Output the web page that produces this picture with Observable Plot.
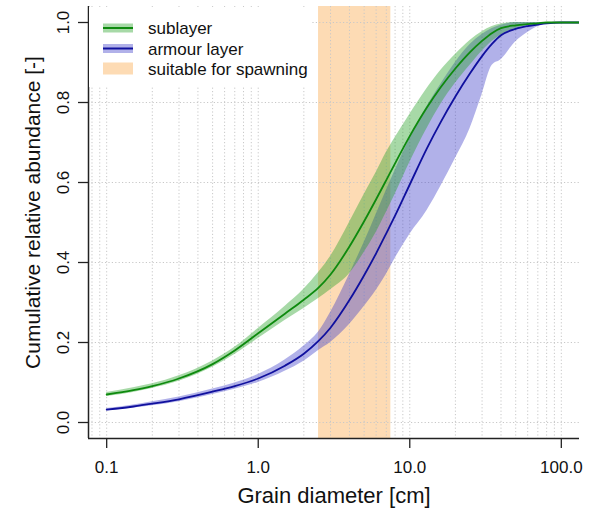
<!DOCTYPE html>
<html>
<head>
<meta charset="utf-8">
<script src="https://cdn.jsdelivr.net/npm/d3@7"></script>
<script src="https://cdn.jsdelivr.net/npm/@observablehq/plot@0.6"></script>
<style>
  html, body { margin: 0; padding: 0; background: #fff; }
  #wrap { position: relative; width: 592px; height: 509px; font-family: "Liberation Sans", Arial, sans-serif; }
  #legend { position: absolute; left: 89px; top: 7px; width: 223px; height: 80px; background: #fff; }
</style>
</head>
<body>
<div id="wrap"></div>
<script>
// Grain diameter [cm]
const diam = [0.1, 0.15, 0.2, 0.3, 0.5, 0.7, 1, 1.5, 2, 2.5, 3, 4, 5, 6, 7, 8, 10, 13, 16, 20, 25, 30, 35, 40, 50, 60, 70, 80, 100, 150];
// sublayer: median and envelope
const subMid = [0.07, 0.081, 0.091, 0.11, 0.146, 0.18, 0.223, 0.272, 0.307, 0.337, 0.37, 0.44, 0.503, 0.558, 0.606, 0.648, 0.716, 0.788, 0.838, 0.885, 0.926, 0.954, 0.974, 0.986, 0.993, 0.996, 0.998, 1, 1, 1];
const subLo  = [0.065, 0.075, 0.085, 0.103, 0.138, 0.17, 0.21, 0.255, 0.285, 0.31, 0.332, 0.372, 0.425, 0.475, 0.525, 0.57, 0.65, 0.735, 0.795, 0.848, 0.893, 0.928, 0.953, 0.969, 0.985, 0.993, 0.998, 1, 1, 1];
const subHi  = [0.075, 0.087, 0.097, 0.117, 0.154, 0.188, 0.235, 0.29, 0.333, 0.375, 0.415, 0.5, 0.57, 0.625, 0.675, 0.712, 0.77, 0.835, 0.88, 0.92, 0.955, 0.977, 0.99, 0.996, 1, 1, 1, 1, 1, 1];
// armour layer: median and envelope
const armMid = [0.032, 0.04, 0.047, 0.058, 0.077, 0.091, 0.11, 0.142, 0.172, 0.204, 0.237, 0.306, 0.368, 0.423, 0.473, 0.517, 0.595, 0.686, 0.751, 0.815, 0.873, 0.916, 0.947, 0.968, 0.984, 0.991, 0.995, 0.998, 1, 1];
const armLo  = [0.029, 0.036, 0.042, 0.052, 0.07, 0.083, 0.1, 0.128, 0.153, 0.18, 0.2, 0.245, 0.29, 0.33, 0.37, 0.41, 0.47, 0.53, 0.59, 0.66, 0.735, 0.82, 0.893, 0.907, 0.952, 0.975, 0.99, 1, 1, 1];
const armHi  = [0.035, 0.044, 0.052, 0.064, 0.084, 0.099, 0.12, 0.156, 0.191, 0.226, 0.275, 0.37, 0.45, 0.52, 0.58, 0.63, 0.71, 0.79, 0.845, 0.9, 0.945, 0.97, 0.985, 0.993, 1, 1, 1, 1, 1, 1];
// grain sizes suitable for spawning [cm]
const spawnRange = [2.5, 7.5];
// axes
const xTicks = [0.1, 1, 10, 100];
const yTicks = [0, 0.2, 0.4, 0.6, 0.8, 1.0];
const xGrid = [0.08, 0.09, 0.1, 0.2, 0.3, 0.4, 0.5, 0.6, 0.7, 0.8, 0.9, 1, 2, 3, 4, 5, 6, 7, 8, 9, 10, 20, 30, 40, 50, 60, 70, 80, 90, 100];
const xDomain = [Math.pow(10, -1.12), Math.pow(10, 2.12)];
const yDomain = [-0.04, 1.04];
const legendLabels = ["sublayer", "armour layer", "suitable for spawning"];

const sub = diam.map((d, i) => ({d, mid: subMid[i], lo: subLo[i], hi: subHi[i]}));
const arm = diam.map((d, i) => ({d, mid: armMid[i], lo: armLo[i], hi: armHi[i]}));

const cGreenLine = "#0e8a0e", cGreenFill = "#22a022";
const cBlueLine = "#10109e", cBlueFill = "#3c3cc8";
const cSpawn = "#fddbb4";
const font = "Liberation Sans, Arial, sans-serif";
const fmt = d3.format(".1f");

const chart = Plot.plot({
  width: 592, height: 509,
  marginLeft: 88, marginRight: 13, marginTop: 6, marginBottom: 71,
  style: {fontFamily: font, background: "#fff", color: "#111"},
  x: {type: "log", domain: xDomain},
  y: {domain: yDomain},
  marks: [
    Plot.rect([spawnRange], {x1: d => d[0], x2: d => d[1], fill: cSpawn}),
    Plot.ruleX(xGrid, {stroke: "#c8c8c8", strokeDasharray: "1.2,2.2", strokeWidth: 1}),
    Plot.ruleY(yTicks, {stroke: "#c8c8c8", strokeDasharray: "1.2,2.2", strokeWidth: 1}),
    Plot.areaY(arm, {x: "d", y1: "lo", y2: "hi", fill: cBlueFill, fillOpacity: 0.4, curve: "monotone-x", clip: true}),
    Plot.areaY(sub, {x: "d", y1: "lo", y2: "hi", fill: cGreenFill, fillOpacity: 0.4, curve: "monotone-x", clip: true}),
    Plot.line(arm, {x: "d", y: "mid", stroke: cBlueLine, strokeWidth: 1.8, curve: "monotone-x", clip: true}),
    Plot.line(sub, {x: "d", y: "mid", stroke: cGreenLine, strokeWidth: 1.8, curve: "monotone-x", clip: true}),
    Plot.ruleX([xDomain[0]], {stroke: "#222", strokeWidth: 1.5}),
    Plot.ruleY([yDomain[0]], {stroke: "#222", strokeWidth: 1.5}),
    Plot.axisX({ticks: xTicks, tickFormat: fmt, tickSize: 10, tickPadding: 12, fontSize: 17, stroke: "#222", strokeWidth: 1.3, label: null}),
    Plot.axisY({ticks: yTicks, tickFormat: fmt, tickSize: 10, tickPadding: 10, tickRotate: -90, fontSize: 17, stroke: "#222", strokeWidth: 1.3, label: null}),
    Plot.text(["Grain diameter [cm]"], {frameAnchor: "bottom", dy: 57, textAnchor: "middle", lineAnchor: "middle", fontSize: 22, fill: "#111"}),
    Plot.text(["Cumulative relative abundance [-]"], {frameAnchor: "left", dx: -55, dy: -10, rotate: -90, textAnchor: "middle", lineAnchor: "middle", fontSize: 21, fill: "#111"})
  ]
});

const wrap = document.getElementById("wrap");
wrap.appendChild(chart);

// legend overlay (white box in the top-left of the panel)
const lg = document.createElement("div");
lg.id = "legend";
const ns = "http://www.w3.org/2000/svg";
const svg = document.createElementNS(ns, "svg");
svg.setAttribute("width", 223); svg.setAttribute("height", 80);
const items = [
  {label: legendLabels[0], fill: cGreenFill, line: cGreenLine},
  {label: legendLabels[1], fill: cBlueFill, line: cBlueLine},
  {label: legendLabels[2], fill: cSpawn, line: null}
];
items.forEach((it, i) => {
  const cy = 21 + i * 20.5;
  const r = document.createElementNS(ns, "rect");
  r.setAttribute("x", 14); r.setAttribute("width", 30);
  if (it.line) {
    r.setAttribute("y", cy - 4.5); r.setAttribute("height", 9);
    r.setAttribute("fill", it.fill); r.setAttribute("fill-opacity", 0.4);
  } else {
    r.setAttribute("y", cy - 6.5); r.setAttribute("height", 12);
    r.setAttribute("fill", it.fill);
  }
  svg.appendChild(r);
  if (it.line) {
    const l = document.createElementNS(ns, "line");
    l.setAttribute("x1", 14); l.setAttribute("x2", 44);
    l.setAttribute("y1", cy); l.setAttribute("y2", cy);
    l.setAttribute("stroke", it.line); l.setAttribute("stroke-width", 2);
    svg.appendChild(l);
  }
  const t = document.createElementNS(ns, "text");
  t.setAttribute("x", 59); t.setAttribute("y", cy + 6);
  t.setAttribute("font-size", 17); t.setAttribute("font-family", font);
  t.setAttribute("fill", "#111");
  t.textContent = it.label;
  svg.appendChild(t);
});
lg.appendChild(svg);
wrap.appendChild(lg);
</script>
</body>
</html>
